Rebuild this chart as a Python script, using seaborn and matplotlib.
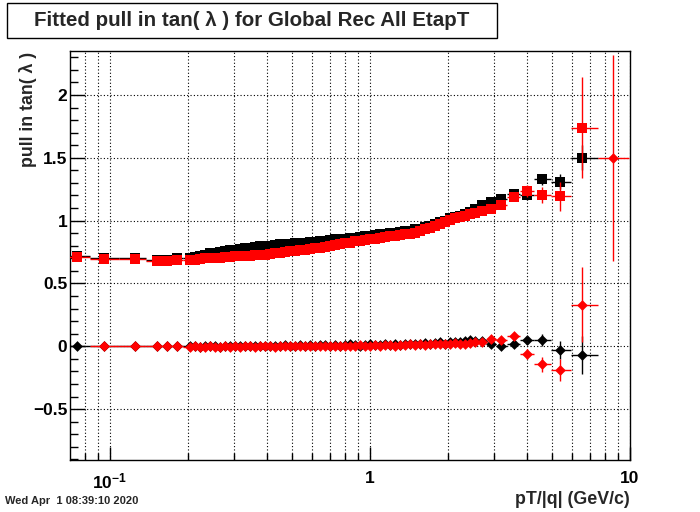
import numpy as np
import pandas as pd
import seaborn as sns
import matplotlib
matplotlib.use("Agg")
from matplotlib import pyplot as plt
from matplotlib.patches import Rectangle
from matplotlib.ticker import LogLocator, MultipleLocator, NullFormatter, FixedLocator

# bin centres in pT/|q| (GeV/c)
pt = [0.0746, 0.0948, 0.1248, 0.1516, 0.1657, 0.1810,
      0.2031, 0.2123, 0.2219, 0.2319, 0.2424, 0.2534, 0.2649, 0.2768, 0.2894, 0.3025,
      0.3162, 0.3305, 0.3455, 0.3611, 0.3775, 0.3946, 0.4125, 0.4311, 0.4507, 0.4711,
      0.4924, 0.5147, 0.5380, 0.5623, 0.5878, 0.6144, 0.6422, 0.6713, 0.7017, 0.7334,
      0.7666, 0.8013, 0.8377, 0.8756, 0.9152, 0.9567, 1.0, 1.0453, 1.0926, 1.1421,
      1.1938, 1.2479, 1.3044, 1.3634, 1.4251, 1.4897, 1.5571, 1.6276, 1.7013, 1.7783,
      1.8588, 1.9430, 2.0309, 2.1229, 2.2190, 2.3195, 2.4245, 2.5343,
      2.697, 2.920, 3.190, 3.579, 4.017, 4.586, 5.380, 6.537, 8.603]

# pull width (squares)
black_sigma = [0.72, 0.70, 0.70, 0.69, 0.69, 0.70,
               0.70, 0.71, 0.72, 0.73, 0.74, 0.745, 0.75, 0.76, 0.765, 0.77,
               0.775, 0.78, 0.785, 0.79, 0.795, 0.80, 0.80, 0.805, 0.81, 0.81,
               0.815, 0.82, 0.82, 0.825, 0.83, 0.83, 0.835, 0.84, 0.845, 0.85,
               0.85, 0.855, 0.86, 0.865, 0.87, 0.875, 0.88, 0.885, 0.89, 0.895,
               0.90, 0.905, 0.91, 0.915, 0.92, 0.93, 0.935, 0.95, 0.96, 0.975,
               0.99, 1.00, 1.02, 1.03, 1.04, 1.05, 1.07, 1.09,
               1.125, 1.15, 1.17, 1.21, 1.20, 1.33, 1.31, 1.50, np.nan]
red_sigma = [0.71, 0.695, 0.695, 0.68, 0.68, 0.69,
             0.685, 0.69, 0.695, 0.70, 0.70, 0.705, 0.705, 0.71, 0.71, 0.715,
             0.715, 0.72, 0.72, 0.725, 0.73, 0.73, 0.735, 0.74, 0.745, 0.75,
             0.755, 0.76, 0.765, 0.77, 0.775, 0.78, 0.785, 0.79, 0.80, 0.805,
             0.81, 0.82, 0.825, 0.835, 0.84, 0.845, 0.85, 0.855, 0.86, 0.87,
             0.875, 0.88, 0.885, 0.89, 0.895, 0.905, 0.915, 0.93, 0.945, 0.96,
             0.975, 0.99, 1.005, 1.02, 1.03, 1.04, 1.05, 1.06,
             1.075, 1.093, 1.125, 1.19, 1.235, 1.205, 1.195, 1.74, np.nan]
black_sigma_err = [0.005, 0.005, 0.005, 0.005, 0.005, 0.005,
                   0.004, 0.004, 0.004, 0.004, 0.004, 0.004, 0.004, 0.004, 0.004, 0.004,
                   0.004, 0.004, 0.004, 0.004, 0.004, 0.004, 0.004, 0.004, 0.004, 0.004,
                   0.004, 0.004, 0.004, 0.004, 0.004, 0.004, 0.004, 0.004, 0.004, 0.004,
                   0.005, 0.005, 0.005, 0.005, 0.005, 0.005, 0.005, 0.005, 0.005, 0.005,
                   0.006, 0.006, 0.006, 0.006, 0.006, 0.006, 0.007, 0.007, 0.007, 0.008,
                   0.008, 0.008, 0.009, 0.009, 0.010, 0.010, 0.012, 0.012,
                   0.02, 0.02, 0.025, 0.03, 0.035, 0.045, 0.06, 0.10, np.nan]
red_sigma_err = [0.005, 0.005, 0.005, 0.005, 0.005, 0.005,
                 0.004, 0.004, 0.004, 0.004, 0.004, 0.004, 0.004, 0.004, 0.004, 0.004,
                 0.004, 0.004, 0.004, 0.004, 0.004, 0.004, 0.004, 0.004, 0.004, 0.004,
                 0.004, 0.004, 0.004, 0.004, 0.004, 0.004, 0.004, 0.004, 0.004, 0.004,
                 0.005, 0.005, 0.005, 0.005, 0.005, 0.005, 0.005, 0.005, 0.005, 0.005,
                 0.006, 0.006, 0.006, 0.006, 0.006, 0.006, 0.007, 0.007, 0.007, 0.008,
                 0.008, 0.008, 0.009, 0.009, 0.010, 0.010, 0.012, 0.012,
                 0.02, 0.025, 0.03, 0.035, 0.045, 0.065, 0.115, 0.40, np.nan]

# pull mean (diamonds)
black_mean = [0.0, 0.0, 0.0, 0.0, 0.0, 0.0,
              0.0, 0.0, -0.005, 0.0, 0.0, 0.0, -0.005, 0.0, 0.0, 0.0,
              0.0, 0.005, 0.0, 0.0, 0.005, 0.005, 0.0, 0.005, 0.005, 0.01,
              0.005, 0.005, 0.01, 0.005, 0.01, 0.005, 0.01, 0.01, 0.005, 0.01,
              0.005, 0.01, 0.015, 0.01, 0.005, 0.01, 0.015, 0.01, 0.01, 0.015,
              0.01, 0.015, 0.01, 0.015, 0.02, 0.015, 0.02, 0.025, 0.02, 0.025,
              0.03, 0.02, 0.03, 0.035, 0.03, 0.04, 0.05, 0.04,
              0.045, 0.017, 0.0, 0.017, 0.051, 0.051, -0.029, -0.071, np.nan]
red_mean = [np.nan, 0.0, 0.0, 0.0, 0.0, 0.0,
            -0.005, 0.0, -0.005, -0.005, 0.0, -0.005, -0.005, 0.0, -0.005, 0.0,
            -0.005, 0.0, 0.0, -0.005, 0.0, 0.0, 0.0, -0.005, 0.0, 0.0,
            0.005, 0.0, 0.0, 0.005, 0.0, 0.005, 0.0, 0.005, 0.005, 0.0,
            0.005, 0.005, 0.0, 0.005, 0.01, 0.005, 0.005, 0.01, 0.005, 0.01,
            0.01, 0.005, 0.01, 0.01, 0.015, 0.01, 0.015, 0.01, 0.02, 0.015,
            0.02, 0.015, 0.02, 0.025, 0.02, 0.015, 0.025, 0.03,
            0.03, 0.059, 0.05, 0.083, -0.063, -0.143, -0.188, 0.33, 1.50]
black_mean_err = [0.005, 0.005, 0.005, 0.005, 0.005, 0.005,
                  0.004, 0.004, 0.004, 0.004, 0.004, 0.004, 0.004, 0.004, 0.004, 0.004,
                  0.004, 0.004, 0.004, 0.004, 0.004, 0.004, 0.004, 0.004, 0.004, 0.004,
                  0.004, 0.004, 0.004, 0.004, 0.004, 0.004, 0.004, 0.004, 0.004, 0.004,
                  0.005, 0.005, 0.005, 0.005, 0.005, 0.005, 0.005, 0.005, 0.005, 0.005,
                  0.006, 0.006, 0.006, 0.006, 0.006, 0.006, 0.007, 0.007, 0.007, 0.008,
                  0.008, 0.008, 0.009, 0.009, 0.010, 0.010, 0.010, 0.010,
                  0.01, 0.015, 0.015, 0.02, 0.03, 0.05, 0.07, 0.15, np.nan]
red_mean_err = [0.005, 0.005, 0.005, 0.005, 0.005, 0.005,
                0.004, 0.004, 0.004, 0.004, 0.004, 0.004, 0.004, 0.004, 0.004, 0.004,
                0.004, 0.004, 0.004, 0.004, 0.004, 0.004, 0.004, 0.004, 0.004, 0.004,
                0.004, 0.004, 0.004, 0.004, 0.004, 0.004, 0.004, 0.004, 0.004, 0.004,
                0.005, 0.005, 0.005, 0.005, 0.005, 0.005, 0.005, 0.005, 0.005, 0.005,
                0.006, 0.006, 0.006, 0.006, 0.006, 0.006, 0.007, 0.007, 0.007, 0.008,
                0.008, 0.008, 0.009, 0.009, 0.010, 0.010, 0.010, 0.010,
                0.01, 0.015, 0.02, 0.025, 0.04, 0.06, 0.09, 0.30, 0.82]

y_ticks = [-0.5, 0, 0.5, 1, 1.5, 2]
y_labels = ["\u22120.5", "0", "0.5", "1", "1.5", "2"]
x_ticks = [0.1, 1, 10]
x_labels = [r"$\mathbf{10^{-1}}$", "1", "10"]

sns.set_style("ticks")
plt.rcParams['font.family'] = ['Liberation Sans', 'DejaVu Sans']
plt.rcParams['mathtext.fontset'] = 'custom'
plt.rcParams['mathtext.bf'] = 'Liberation Sans:bold'
plt.rcParams['mathtext.rm'] = 'Liberation Sans'

fig = plt.figure(figsize=(7, 5.12), dpi=100)
ax = fig.add_axes([0.1, 0.1016, 0.8, 0.7988])

# half bin widths from neighbouring centres (log space)
ptv = np.array(pt)
lx = np.log10(ptv)
mid = (lx[1:] + lx[:-1]) / 2
lo = np.concatenate([[2 * lx[0] - mid[0]], mid])
hi = np.concatenate([mid, [2 * lx[-1] - mid[-1]]])
xerr = [ptv - 10 ** lo, 10 ** hi - ptv]

series = [
    (black_sigma, black_sigma_err, "black", "s", 46),
    (red_sigma, red_sigma_err, "red", "s", 46),
    (black_mean, black_mean_err, "black", "D", 30),
    (red_mean, red_mean_err, "red", "D", 30),
]
z = 2
for vals, errs, col, mk, size in series:
    df = pd.DataFrame({"pt": pt, "val": vals, "err": errs})
    ax.errorbar(df["pt"], df["val"], xerr=xerr, yerr=df["err"], fmt="none",
                ecolor=col, elinewidth=1.0, capsize=0, zorder=z)
    sns.scatterplot(data=df, x="pt", y="val", marker=mk, s=size, color=col,
                    linewidth=0, ax=ax, zorder=z + 1, legend=False)
    z += 2

ax.set_xscale("log")
ax.set_xlim(0.0702, 10)
ax.set_ylim(-0.905, 2.35)

ax.xaxis.set_major_locator(FixedLocator(x_ticks))
ax.set_xticks(x_ticks)
ax.set_xticklabels(x_labels)
ax.xaxis.set_minor_locator(LogLocator(base=10, subs=[2, 3, 4, 5, 6, 7, 8, 9]))
ax.xaxis.set_minor_formatter(NullFormatter())
ax.set_yticks(y_ticks)
ax.set_yticklabels(y_labels)
ax.yaxis.set_minor_locator(MultipleLocator(0.1))

ax.tick_params(which="both", direction="in", top=False, right=False, colors="black",
               labelsize=12.5, width=1)
ax.tick_params(axis="y", which="major", length=11, pad=2)
ax.tick_params(axis="y", which="minor", length=5.5)
ax.tick_params(axis="x", which="major", length=9.5, pad=8)
ax.tick_params(axis="x", which="minor", length=5)
for lab in ax.get_xticklabels() + ax.get_yticklabels():
    lab.set_fontweight("bold")

ax.set_axisbelow(True)
ax.grid(True, which="both", axis="x", color="black", linestyle=(0, (1, 2)), linewidth=0.8)
ax.grid(True, which="major", axis="y", color="black", linestyle=(0, (1, 2)), linewidth=0.8)
for sp in ax.spines.values():
    sp.set_color("black")
    sp.set_linewidth(1)
ax.set_xlabel("")
ax.set_ylabel("")

fig.text(0.9, 1 - 500 / 512, "pT/|q| (GeV/c)", ha="right", va="center",
         fontsize=12.8, fontweight="bold")
fig.text(28 / 700, 1 - 52 / 512, "pull in tan( \u03bb )", rotation=90, ha="center",
         va="top", fontsize=12.8, fontweight="bold")
fig.text(5 / 700, 1 - 501 / 512, "Wed Apr  1 08:39:10 2020", ha="left", va="center",
         fontsize=8, fontweight="bold")

fig.patches.append(Rectangle((7 / 700, 1 - 38 / 512), 490 / 700, 35 / 512,
                             transform=fig.transFigure, facecolor="white",
                             edgecolor="black", linewidth=1))
fig.text(252 / 700, 1 - 20.5 / 512, "Fitted pull in tan( \u03bb ) for Global Rec All EtapT",
         ha="center", va="center", fontsize=14.8, fontweight="bold")

fig.savefig("out.png", dpi=100)
